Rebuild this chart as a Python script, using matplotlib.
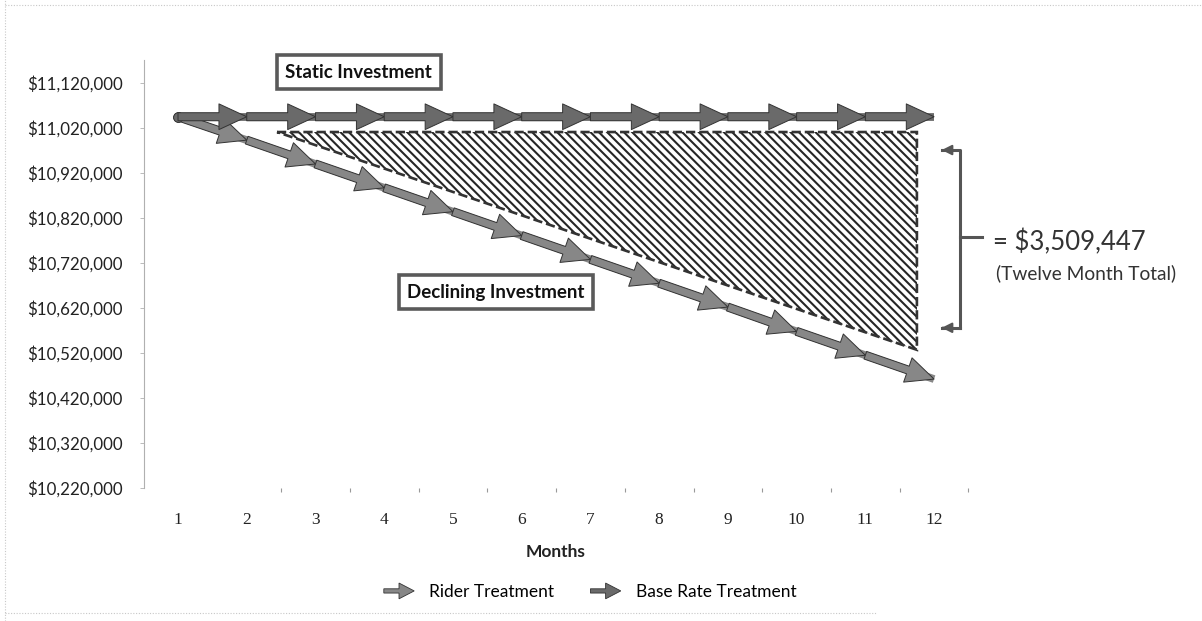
"""Static vs declining investment over twelve months (arrow line chart)."""

import matplotlib

matplotlib.use("Agg")
import matplotlib.patches as mpatches
import matplotlib.pyplot as plt
from matplotlib.legend_handler import HandlerPatch
from matplotlib.lines import Line2D
from matplotlib.ticker import FixedLocator, FuncFormatter

# ── Data ─────────────────────────────────────────────────────────────
months = [1, 2, 3, 4, 5, 6, 7, 8, 9, 10, 11, 12]
static_values = [11045000, 11045000, 11045000, 11045000, 11045000, 11045000,
                 11045000, 11045000, 11045000, 11045000, 11045000, 11045000]
declining_values = [11045000, 10993000, 10940000, 10887000, 10834000, 10781000,
                    10728000, 10675000, 10622000, 10568000, 10515000, 10462000]
y_ticks = [10220000, 10320000, 10420000, 10520000, 10620000,
           10720000, 10820000, 10920000, 11020000, 11120000]
series_names = ["Rider Treatment", "Base Rate Treatment"]
gap_total = "$3,509,447"
gap_note = "(Twelve Month Total)"

# ── Style ────────────────────────────────────────────────────────────
SANS = ["Lato", "DejaVu Sans"]
SERIF = ["Liberation Serif", "DejaVu Serif"]
RIDER_COLOR = "#878787"
BASE_COLOR = "#6a6a6a"
EDGE = "#333333"
AXIS_GREY = "#b0b0b0"

plt.rcParams["font.family"] = SANS
plt.rcParams["hatch.linewidth"] = 1.5

fig = plt.figure(figsize=(12.02, 6.21), dpi=100)
ax = fig.add_axes([0.1195, 0.2142, 0.6862, 0.6884])
ax.set_xlim(0.5, 12.5)
ax.set_ylim(10220000, 11170000)


def draw_arrow_series(xs, ys, color, z):
    """Thick line with an arrow head ending at every data point."""
    ax.plot(xs, ys, color=color, lw=5.6, solid_capstyle="butt", zorder=z,
            marker="o", markevery=[0], ms=7, mfc=color, mec=EDGE, mew=0.6)
    for i in range(1, len(xs)):
        ax.annotate(
            "", xy=(xs[i], ys[i]), xytext=(xs[i - 1], ys[i - 1]),
            arrowprops=dict(
                arrowstyle="simple,head_length=2.0,head_width=1.85,tail_width=0.58",
                fc=color, ec=EDGE, lw=0.7, shrinkA=0, shrinkB=0,
                mutation_scale=10,
            ),
            zorder=z,
        )


# hatched gap between the two investments
gap = [(2.44, 11011000), (11.75, 11011000), (11.75, 10527000)]
ax.add_patch(mpatches.Polygon(gap, closed=True, fc="white", ec="#262626",
                              lw=0, hatch="\\\\\\\\", zorder=2))
ax.add_patch(mpatches.Polygon(gap, closed=True, fill=False, ec="#333333",
                              lw=1.9, ls=(0, (3.5, 1.5)), zorder=2.5))

draw_arrow_series(months, declining_values, RIDER_COLOR, 3)
draw_arrow_series(months, static_values, BASE_COLOR, 4)

# ── Axes ─────────────────────────────────────────────────────────────
for side in ("top", "right", "bottom"):
    ax.spines[side].set_visible(False)
ax.spines["left"].set_color(AXIS_GREY)
ax.spines["left"].set_linewidth(0.8)

ax.yaxis.set_major_locator(FixedLocator(y_ticks))
ax.yaxis.set_major_formatter(FuncFormatter(lambda v, _: f"${v:,.0f}"))
ax.tick_params(axis="y", length=3, width=0.6, color=AXIS_GREY, pad=12,
               labelsize=12.2, labelcolor="#222222")

ax.set_xticks(months)
ax.set_xticklabels([str(m) for m in months], family=SERIF)
ax.xaxis.set_minor_locator(FixedLocator([m + 0.5 for m in months[1:]]))
ax.tick_params(axis="x", which="major", length=0, pad=17, labelsize=12.5,
               labelcolor="#222222")
ax.tick_params(axis="x", which="minor", length=3, width=0.8, color="#999999")

ax.set_xlabel("Months", fontsize=12.5, fontweight="bold", color="#222222")
ax.xaxis.set_label_coords(0.5, -0.15)
ax.xaxis.label.set_va("center")

# ── Call-out labels ──────────────────────────────────────────────────
box = dict(boxstyle="square,pad=0.45", fc="white", ec="#5a5a5a", lw=2.6)
ax.text(3.63, 11144000, "Static Investment", ha="center", va="center",
        fontsize=13.5, fontweight="bold", color="#111111", bbox=box, zorder=6)
ax.text(5.63, 10655000, "Declining Investment", ha="center", va="center",
        fontsize=13.5, fontweight="bold", color="#111111", bbox=box, zorder=6)

# brace marking the gap
brace_x, hook_x, tip_x = 12.38, 12.12, 12.70
brace_top, brace_mid, brace_bot = 10971000, 10778000, 10576000
ax.plot([hook_x, brace_x, brace_x, brace_x], [brace_top, brace_top, brace_mid, brace_bot],
        color="#555555", lw=2.2, clip_on=False)
ax.plot([brace_x, hook_x], [brace_bot, brace_bot], color="#555555", lw=2.2, clip_on=False)
ax.plot([brace_x, tip_x], [brace_mid, brace_mid], color="#555555", lw=2.2, clip_on=False)
for yy in (brace_top, brace_bot):
    ax.annotate("", xy=(hook_x - 0.05, yy), xytext=(hook_x + 0.05, yy),
                arrowprops=dict(arrowstyle="-|>,head_length=0.6,head_width=0.3",
                                color="#555555", lw=1.5), annotation_clip=False)

ax.text(12.86, 10767000, "= " + gap_total, ha="left", va="center",
        fontsize=18.5, color="#333333", clip_on=False)
ax.text(12.90, 10698000, gap_note, ha="left", va="center",
        fontsize=13.8, color="#333333", clip_on=False)

# ── Legend ───────────────────────────────────────────────────────────
def make_legend_arrow(legend, orig_handle, xdescent, ydescent, width, height, fontsize):
    return mpatches.FancyArrow(0, 0.5 * height, width, 0, width=0.35 * height,
                               head_width=1.3 * height, head_length=0.5 * width,
                               length_includes_head=True)


handles = [
    mpatches.FancyArrow(0, 0, 1, 0, fc=RIDER_COLOR, ec=EDGE, lw=0.6),
    mpatches.FancyArrow(0, 0, 1, 0, fc=BASE_COLOR, ec=EDGE, lw=0.6),
]
fig.legend(handles, series_names, loc="center", bbox_to_anchor=(590 / 1202, 1 - 592 / 621),
           ncol=2, frameon=False, fontsize=12.5, handlelength=1.75, handletextpad=0.85,
           columnspacing=2.1,
           handler_map={mpatches.FancyArrow: HandlerPatch(patch_func=make_legend_arrow)})

# faint scanned chart border
for xs, ys in (([0.004, 0.004], [0.0, 1.0]), ([0.004, 0.73], [0.013, 0.013]),
               ([0.004, 1.0], [0.992, 0.992])):
    fig.add_artist(Line2D(xs, ys, transform=fig.transFigure, color="#c8c8c8",
                          lw=0.8, ls=(0, (1, 1.5))))

fig.savefig("out.png", dpi=100)
plt.close(fig)
